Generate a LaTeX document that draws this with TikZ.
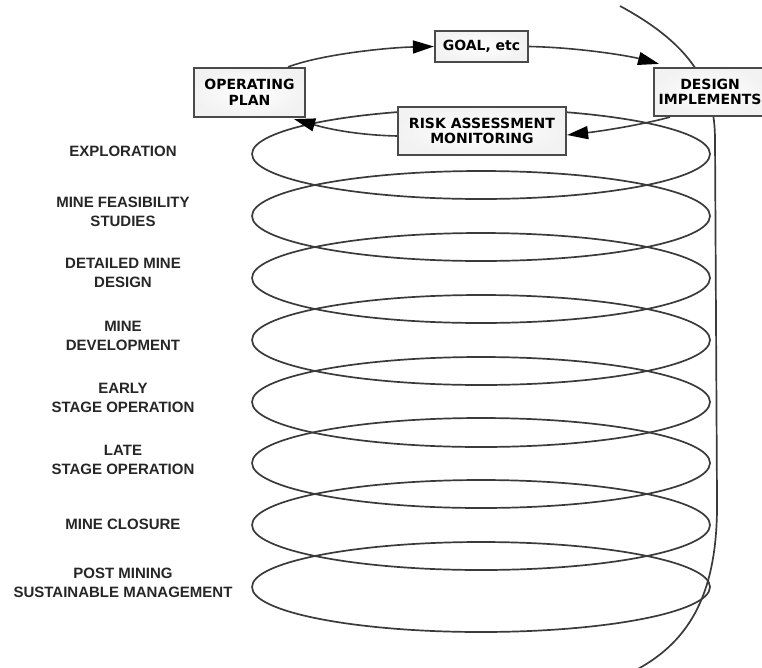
\documentclass[tikz,border=0pt]{standalone}
\usepackage{fontspec}
\setmainfont{Liberation Sans}
\newfontfamily\boxfont{DejaVu Sans}
\usepackage{xcolor}
\definecolor{coilgray}{HTML}{3A3A3A}
\definecolor{edgegray}{HTML}{4A4A4A}
\usepackage{tikz}
\usetikzlibrary{arrows.meta,calc}
\tikzset{
  stagelabel/.style={align=center, font=\fontsize{15}{19}\selectfont\bfseries, text=black!85},
  loopbox/.style={rectangle, draw=edgegray, line width=2.2pt, inner color=white, outer color=black!5,
    align=center, font=\boxfont\fontsize{14}{15.5}\selectfont\bfseries, inner sep=2pt},
  coil/.style={draw=coilgray, line width=1.7pt},
  cycarrow/.style={draw=coilgray, line width=1.6pt, -{Triangle[length=21pt,width=13pt,color=black]}},
}

\begin{document}
\begin{tikzpicture}[x=1pt, y=-1pt]
  \useasboundingbox (0,0) rectangle (762,667);
  \clip (0,0) rectangle (762,667);
  % axis line behind the coil
  \draw[coil] (620,6) .. controls (692,45) and (715,85) .. (715,140)
    -- (717,500) .. controls (718,590) and (692,640) .. (636,670);
  % coil loops
  \draw[coil] (481,154) ellipse (229 and 45);
  \draw[coil] (481,216) ellipse (229 and 45);
  \draw[coil] (481,278) ellipse (229 and 45);
  \draw[coil] (481,340) ellipse (229 and 45);
  \draw[coil] (481,402) ellipse (229 and 45);
  \draw[coil] (481,463) ellipse (229 and 45);
  \draw[coil] (481,525) ellipse (229 and 45);
  \draw[coil] (481,587) ellipse (229 and 45);
  % stage labels
  \node[stagelabel] (explor)  at (123,151) {EXPLORATION};
  \node[stagelabel] (feas)    at (123,212) {MINE FEASIBILITY\\STUDIES};
  \node[stagelabel] (detail)  at (123,273) {DETAILED MINE\\DESIGN};
  \node[stagelabel] (devel)   at (123,336) {MINE\\DEVELOPMENT};
  \node[stagelabel] (early)   at (123,398) {EARLY\\STAGE OPERATION};
  \node[stagelabel] (late)    at (123,460) {LATE\\STAGE OPERATION};
  \node[stagelabel] (closure) at (123,524) {MINE CLOSURE};
  \node[stagelabel] (post)    at (123,583) {POST MINING\\SUSTAINABLE MANAGEMENT};
  % management cycle on top
  \node[loopbox, minimum width=111, minimum height=49] (plan) at (249.5,92.5) {OPERATING\\PLAN};
  \node[loopbox, minimum width=93, minimum height=31] (goal) at (481.5,46.5) {GOAL, etc};
  \node[loopbox, minimum width=112, minimum height=48, anchor=west] (design) at (653,92) {DESIGN\\IMPLEMENTS};
  \node[loopbox, minimum width=168, minimum height=48] (risk) at (482,131) {RISK ASSESSMENT\\MONITORING};
  \draw[cycarrow] ($(plan.north east)+(-18,0)$) .. controls +(35,-13) and +(-45,1) .. (goal.west);
  \draw[cycarrow] (goal.east) .. controls +(50,1) and +(-30,-8) .. ($(design.north west)+(6,-3)$);
  \draw[cycarrow] ($(design.south west)+(17,0)$) .. controls +(-30,8) and +(35,-4) .. ($(risk.east)+(0,4)$);
  \draw[cycarrow] ($(risk.west)+(0,5)$) .. controls +(-40,-1) and +(35,10) .. ($(plan.south east)+(-12,1)$);
\end{tikzpicture}
\end{document}
